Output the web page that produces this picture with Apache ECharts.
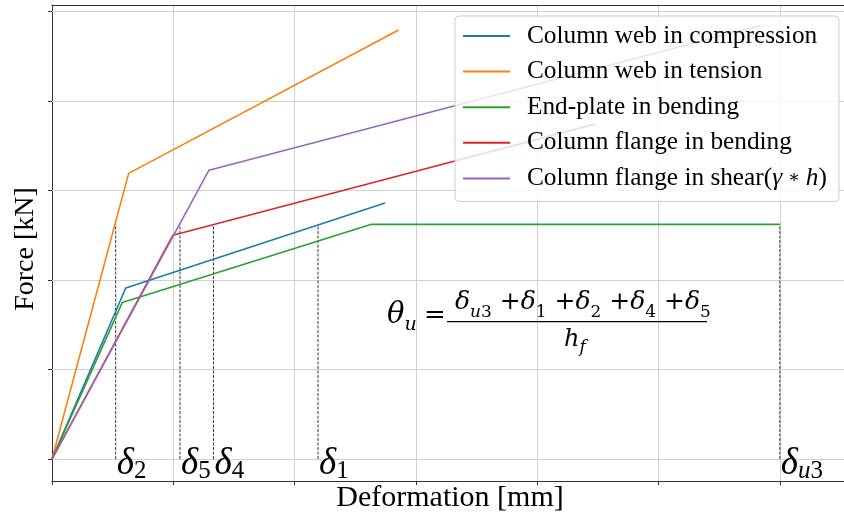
<!DOCTYPE html>
<html><head><meta charset="utf-8">
<script src="https://cdn.jsdelivr.net/npm/echarts@6/dist/echarts.min.js"></script>
<style>html,body{margin:0;padding:0;background:#fff}#c{width:844px;height:518px}</style>
</head><body><div id="c"></div>
<script>
// ---- data ----
const seriesNames = ['Column web in compression','Column web in tension','End-plate in bending','Column flange in bending','Column flange in shear(γ ∗ h)'];
const colors = ['#1f77b4','#ff7f0e','#2ca02c','#d62728','#9467bd'];
const webCompression = [[0,0],[0.608,1.91],[2.745,2.86]];
const webTension = [[0,0],[0.632,3.19],[2.858,4.79]];
const endPlateBending = [[0,0],[0.580,1.749],[2.627,2.62],[6.0,2.62]];
const flangeBending = [[0,0],[0.997,2.50],[4.48,3.742]];
const flangeShear = [[0,0],[1.294,3.225],[5.843,4.84]];
const seriesData = [webCompression, webTension, endPlateBending, flangeBending, flangeShear];
const deltaSubs = ['2','5','4','1','u3'];
const deltaX = [0.525, 1.055, 1.331, 2.193, 6.0];
const deltaTop = 2.62;
const yTicks = [0,1,2,3,4,5];

const X_MIN = 0, X_MAX = 6.529, Y_MIN = -0.245, Y_MAX = 5.07;
const SERIF = 'Liberation Serif';
const MATH = 'DejaVu Serif';
const GRIDC = '#d0d0d0';
const SPINE = '#333';

const chart = echarts.init(document.getElementById('c'));

const lineSeries = seriesNames.map((n, i) => ({
  name: n, type: 'line', data: seriesData[i], symbol: 'none', showSymbol: false,
  lineStyle: { width: 1.6, color: colors[i] }, itemStyle: { color: colors[i] },
  z: 3, silent: true
}));
const dashSeries = deltaX.map((x, i) => ({
  name: 'dash' + i, type: 'line', data: [[x, 0], [x, deltaTop]], symbol: 'none',
  lineStyle: { color: '#333', width: 1, type: [3, 1.5] }, z: 2, silent: true
}));
const gridSeries = {
  name: 'ygrid', type: 'line', data: [], z: 1, silent: true,
  markLine: {
    silent: true, symbol: ['none', 'none'], label: { show: false }, z: 1, animation: false,
    lineStyle: { color: GRIDC, width: 1, type: 'solid' },
    emphasis: { disabled: true },
    data: yTicks.map(v => ({ yAxis: v }))
  }
};

chart.setOption({
  animation: false,
  grid: { left: 52, top: 5, width: 792, height: 476, show: false },
  xAxis: [{
    type: 'value', min: X_MIN, max: X_MAX, interval: 1, position: 'bottom',
    axisLine: { onZero: false, lineStyle: { color: SPINE, width: 1 } },
    axisTick: { show: true, inside: false, length: 4, lineStyle: { color: SPINE } },
    axisLabel: { show: false },
    splitLine: { show: true, lineStyle: { color: GRIDC, width: 1 } },
    name: 'Deformation [mm]', nameLocation: 'middle', nameGap: 2,
    nameTextStyle: { fontFamily: SERIF, fontSize: 30, color: '#000', padding: [0, 0, 0, 4] }
  }, {
    type: 'value', min: X_MIN, max: X_MAX, interval: 1, position: 'top',
    axisLine: { show: true, onZero: false, lineStyle: { color: SPINE, width: 1 } },
    axisTick: { show: false }, axisLabel: { show: false }, splitLine: { show: false }
  }],
  yAxis: {
    type: 'value', min: Y_MIN, max: Y_MAX,
    axisLine: { show: true, onZero: false, lineStyle: { color: SPINE, width: 1 } },
    axisTick: { show: true, inside: false, length: 4, customValues: yTicks, lineStyle: { color: SPINE } },
    axisLabel: { show: false, customValues: yTicks },
    splitLine: { show: false },
    name: 'Force [kN]', nameLocation: 'middle', nameRotate: 90, nameGap: 12,
    nameTextStyle: { fontFamily: SERIF, fontSize: 28, color: '#000', padding: [0, 12, 0, 0] }
  },
  legend: {
    data: seriesNames, orient: 'vertical', left: 455, top: 16,
    padding: [5, 12, 8, 8], itemGap: 5.6,
    backgroundColor: 'rgba(255,255,255,0.8)', borderColor: '#cccccc', borderWidth: 1, borderRadius: 4,
    icon: 'rect', itemWidth: 47, itemHeight: 2, selectedMode: false,
    textStyle: {
      fontFamily: SERIF, fontSize: 25.3, color: '#000', lineHeight: 30, padding: [0, 0, 0, 12],
      rich: {
        r: { fontFamily: SERIF, fontSize: 25.3, color: '#000', lineHeight: 30 },
        i: { fontFamily: SERIF, fontSize: 25.3, fontStyle: 'italic', color: '#000', lineHeight: 30 },
        a: { fontFamily: MATH, fontSize: 18, color: '#000', lineHeight: 30 }
      }
    },
    formatter: function (name) {
      if (name.indexOf('(γ ∗ h)') >= 0) {
        return '{r|' + name.replace('(γ ∗ h)', '') + '(}{i|γ}{a| ∗ }{i|h}{r|)}';
      }
      return name;
    }
  },
  series: [gridSeries, ...lineSeries, ...dashSeries]
});

// ---- annotations ----
const graphics = [];
deltaX.forEach((x, i) => {
  const p = chart.convertToPixel({ gridIndex: 0 }, [x, 0]);
  const sub = deltaSubs[i];
  const subText = sub === 'u3' ? '{si|u}{s|3}' : '{s|' + sub + '}';
  graphics.push({
    type: 'text', x: p[0] + 1, y: p[1] + 5, silent: true, z: 10,
    style: {
      text: '{d|δ}' + subText, align: 'left', verticalAlign: 'middle',
      rich: {
        d: { fontFamily: SERIF, fontStyle: 'italic', fontSize: 37, lineHeight: 44, fill: '#000' },
        s: { fontFamily: SERIF, fontSize: 25, lineHeight: 30, padding: [14, 0, 0, 0], fill: '#000' },
        si: { fontFamily: SERIF, fontStyle: 'italic', fontSize: 25, lineHeight: 30, padding: [14, 0, 0, 0], fill: '#000' }
      }
    }
  });
});

const numRich = {
  d: { fontFamily: MATH, fontStyle: 'italic', fontSize: 25, lineHeight: 50, fill: '#000' },
  p: { fontFamily: MATH, fontSize: 25, lineHeight: 50, fill: '#000' },
  s: { fontFamily: MATH, fontSize: 17, lineHeight: 27, padding: [21, 0, 0, 0], fill: '#000' },
  si: { fontFamily: MATH, fontStyle: 'italic', fontSize: 17, lineHeight: 27, padding: [21, 0, 0, 0], fill: '#000' }
};
graphics.push({
  type: 'text', x: 455, y: 302, silent: true, z: 10,
  style: { text: '{d|δ}{si|u}{s|3}{p| +}{d|δ}{s|1}{p| +}{d|δ}{s|2}{p| +}{d|δ}{s|4}{p| +}{d|δ}{s|5}', align: 'left', verticalAlign: 'middle', rich: numRich }
});
graphics.push({
  type: 'text', x: 387, y: 315, silent: true, z: 10,
  style: {
    text: '{t|θ}{si|u}', align: 'left', verticalAlign: 'middle',
    rich: {
      t: { fontFamily: MATH, fontStyle: 'italic', fontSize: 29, lineHeight: 50, fill: '#000' },
      si: { fontFamily: MATH, fontStyle: 'italic', fontSize: 19, lineHeight: 30, padding: [20, 0, 0, 0], fill: '#000' }
    }
  }
});
graphics.push({
  type: 'text', x: 424, y: 316, silent: true, z: 10,
  style: { text: '=', fontFamily: MATH, fontSize: 26, fill: '#000', align: 'left', verticalAlign: 'middle' }
});
graphics.push({
  type: 'line', silent: true, z: 10,
  shape: { x1: 447, y1: 321.7, x2: 707, y2: 321.7 },
  style: { stroke: '#000', lineWidth: 1.3 }
});
graphics.push({
  type: 'text', x: 564, y: 340, silent: true, z: 10,
  style: {
    text: '{t|h}{si|f}', align: 'left', verticalAlign: 'middle',
    rich: {
      t: { fontFamily: MATH, fontStyle: 'italic', fontSize: 24, lineHeight: 50, fill: '#000' },
      si: { fontFamily: MATH, fontStyle: 'italic', fontSize: 17, lineHeight: 34, padding: [16, 0, 0, 0], fill: '#000' }
    }
  }
});
chart.setOption({ graphic: graphics });
</script>
</body></html>
